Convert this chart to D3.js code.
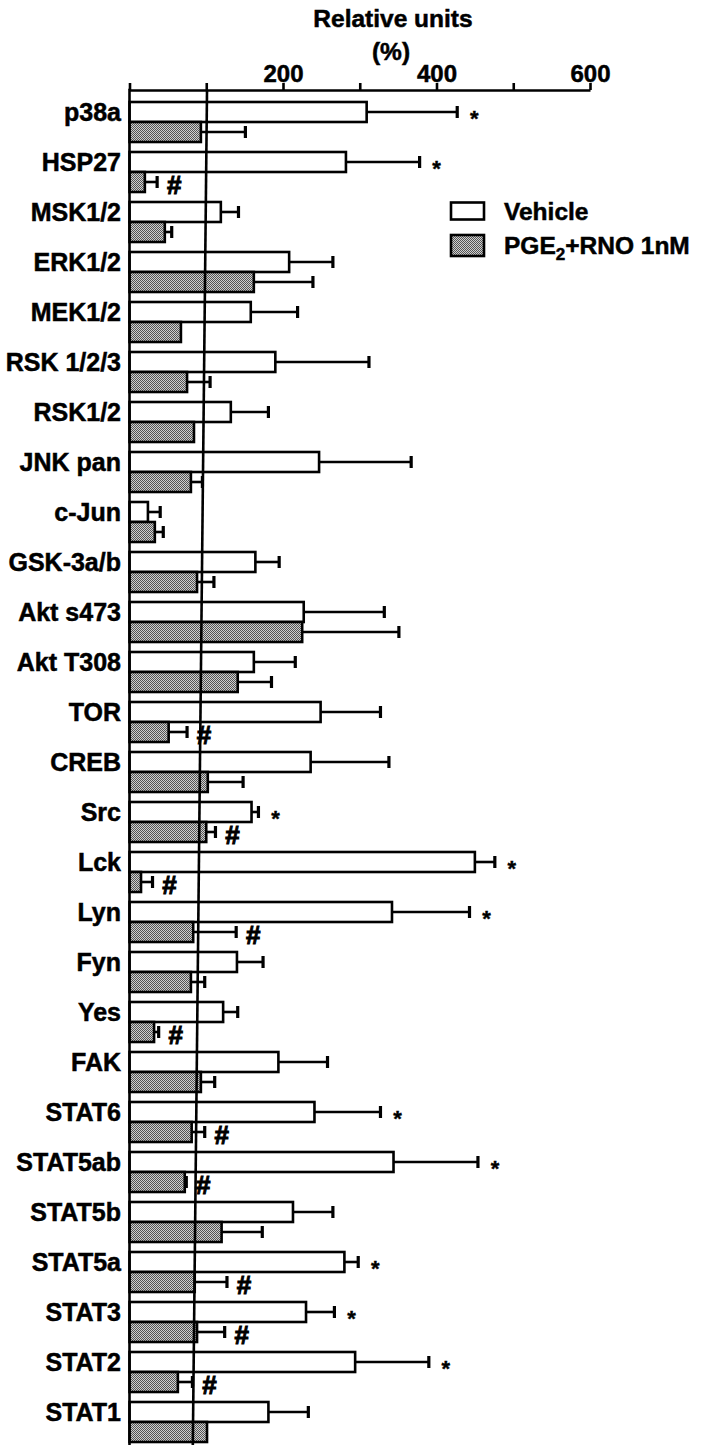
<!DOCTYPE html>
<html><head><meta charset="utf-8">
<script src="https://cdn.jsdelivr.net/npm/d3@7"></script>
<style>
html,body{margin:0;padding:0;background:#fff;}
svg text{font-family:"Liberation Sans",Arial,Helvetica,sans-serif;font-weight:bold;fill:#000;stroke:#000;stroke-width:0.5px;}
</style></head>
<body>
<svg id="chart" width="703" height="1455"></svg>
<script>
const categories = ["p38a","HSP27","MSK1/2","ERK1/2","MEK1/2","RSK 1/2/3","RSK1/2","JNK pan","c-Jun","GSK-3a/b","Akt s473","Akt T308","TOR","CREB","Src","Lck","Lyn","Fyn","Yes","FAK","STAT6","STAT5ab","STAT5b","STAT5a","STAT3","STAT2","STAT1"];
const vehicle    = [309,282,119,208,158,190,132,247,24,164,227,162,249,236,159,450,342,140,122,194,241,344,213,280,230,294,181];
const vehicleSem = [118,96,23,57,61,122,49,120,16,31,105,54,78,102,9,26,101,34,19,64,86,110,52,18,37,96,52];
const pge        = [93,20,46,162,67,75,84,80,33,88,225,141,51,102,100,15,83,80,32,93,81,72,120,85,88,63,101];
const pgeSem     = [58,16,9,77,0,30,0,15,11,22,126,44,24,46,12,15,56,18,6,18,17,2,53,42,36,19,0];
const vehicleMarks = ["*","*","","","","","","","","","","","","","*","*","*","","","","*","*","","*","*","*",""];
const pgeMarks     = ["","#","","","","","","","","","","","#","","#","#","#","","#","","#","#","","#","#","#",""];
const tickValues = [0,100,200,300,400,500,600];
const tickLabels = {200:"200",400:"400",600:"600"};
const refLine = [101, 82.5]; // reference line value at top and bottom of plot
const seriesNames = ["Vehicle","PGE2+RNO 1nM"];

(function(){
const svg = d3.select("#chart");
const defs = svg.append("defs");
const pat = defs.append("pattern").attr("id","dots").attr("width",2).attr("height",2).attr("patternUnits","userSpaceOnUse");
pat.append("rect").attr("width",2).attr("height",2).attr("fill","#d0d0d0");
pat.append("rect").attr("x",0).attr("y",0).attr("width",1).attr("height",1).attr("fill","#555");
pat.append("rect").attr("x",1).attr("y",1).attr("width",1).attr("height",1).attr("fill","#555");

const plotTop = 90, plotBottom = 1445;
const x = d3.scaleLinear().domain([0,600]).range([129.5,590]);
const y = d3.scaleBand().domain(categories).range([97,1447]).paddingInner(0.2).paddingOuter(0.1);
const sub = d3.scaleBand().domain(["v","p"]).range([0,y.bandwidth()]);

const rows = categories.map((c,i)=>({c,i}));

const g = svg.append("g");
const series = [
  {key:"v", vals:vehicle, sem:vehicleSem, marks:vehicleMarks, fill:"#fff"},
  {key:"p", vals:pge, sem:pgeSem, marks:pgeMarks, fill:"url(#dots)"}
];
series.forEach(s=>{
  const sg = g.append("g");
  rows.forEach(r=>{
    const y0 = y(r.c)+sub(s.key), h = sub.bandwidth(), cy = y0+h/2;
    const v = s.vals[r.i], e = s.sem[r.i];
    sg.append("rect").attr("x",x(0)).attr("y",y0).attr("width",x(v)-x(0)).attr("height",h)
      .attr("fill",s.fill).attr("stroke","#000").attr("stroke-width",2.6);
    if(e>0){
      sg.append("line").attr("x1",x(v)).attr("x2",x(v+e)).attr("y1",cy).attr("y2",cy)
        .attr("stroke","#000").attr("stroke-width",2.6);
      sg.append("line").attr("x1",x(v+e)).attr("x2",x(v+e)).attr("y1",cy-6).attr("y2",cy+6)
        .attr("stroke","#000").attr("stroke-width",3.2);
    }
    const m = s.marks[r.i];
    if(m){
      const endv = v + e;
      sg.append("text").attr("x",x(endv)+17).attr("y", m==="*" ? cy+14 : cy+11.5)
        .attr("text-anchor","middle").style("font-size", m==="*" ? "22px" : "26px")
        .style("stroke-width", m==="*" ? "0.4px" : "1px").text(m);
    }
  });
});

svg.append("line").attr("x1",x(refLine[0])).attr("y1",plotTop).attr("x2",x(refLine[1])).attr("y2",plotBottom)
  .attr("stroke","#000").attr("stroke-width",2.6);

const ax = svg.append("g").attr("transform",`translate(0,${plotTop})`)
  .call(d3.axisTop(x).tickValues(tickValues).tickSize(7).tickSizeOuter(0).tickPadding(1)
    .tickFormat(d=>tickLabels[d]||""));
ax.attr("font-family",null).attr("font-size",null);
ax.select(".domain").attr("stroke","#000").attr("stroke-width",2.6);
ax.selectAll(".tick line").attr("stroke","#000").attr("stroke-width",2.6);
ax.selectAll(".tick text").style("font-size","24px");

svg.append("line").attr("x1",x(0)).attr("x2",x(0)).attr("y1",plotTop-1.3).attr("y2",plotBottom)
  .attr("stroke","#000").attr("stroke-width",2.6);

svg.append("g").selectAll("text").data(rows).join("text")
  .attr("x",121).attr("y",d=>y(d.c)+sub("v")+sub.bandwidth()/2+9)
  .attr("text-anchor","end").style("font-size","25px").text(d=>d.c);

svg.append("text").attr("x",393).attr("y",27).attr("text-anchor","middle").style("font-size","24.5px").text("Relative units");
svg.append("text").attr("x",391).attr("y",60).attr("text-anchor","middle").style("font-size","24.5px").text("(%)");

const lg = svg.append("g");
lg.append("rect").attr("x",451).attr("y",202.5).attr("width",33).attr("height",17).attr("fill","#fff").attr("stroke","#000").attr("stroke-width",2.6);
lg.append("rect").attr("x",451).attr("y",235).attr("width",33).attr("height",21).attr("fill","url(#dots)").attr("stroke","#000").attr("stroke-width",2.6);
lg.append("text").attr("x",504).attr("y",220).style("font-size","24.5px").text(seriesNames[0]);
const t2 = lg.append("text").attr("x",504).attr("y",254).style("font-size","24.5px");
t2.append("tspan").text("PGE");
t2.append("tspan").attr("dy",6).style("font-size","17px").text("2");
t2.append("tspan").attr("dy",-6).text("+RNO 1nM");
})();
</script>
</body></html>
